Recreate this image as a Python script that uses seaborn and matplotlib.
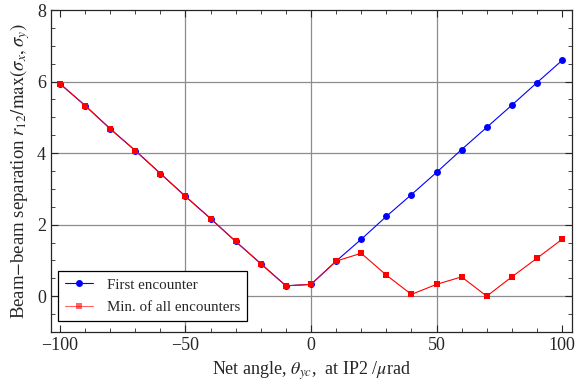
import matplotlib
matplotlib.use("Agg")
import matplotlib.pyplot as plt
import seaborn as sns
import pandas as pd
from matplotlib.ticker import MultipleLocator

angles = [-100, -90, -80, -70, -60, -50, -40, -30, -20, -10, 0, 10, 20, 30, 40, 50, 60, 70, 80, 90, 100]
first_encounter = [5.94, 5.33, 4.68, 4.07, 3.43, 2.79, 2.17, 1.53, 0.91, 0.29, 0.33, 0.98, 1.59, 2.23, 2.84, 3.46, 4.10, 4.72, 5.34, 5.97, 6.59]
min_all = [5.94, 5.33, 4.68, 4.07, 3.43, 2.79, 2.17, 1.53, 0.91, 0.29, 0.33, 0.98, 1.20, 0.59, 0.05, 0.33, 0.54, 0.00, 0.54, 1.06, 1.59]

sns.set_style("ticks")
plt.rcParams['font.family'] = ['Liberation Serif', 'DejaVu Serif']
plt.rcParams['mathtext.fontset'] = 'stix'

df1 = pd.DataFrame({"x": angles, "y": first_encounter})
df2 = pd.DataFrame({"x": angles, "y": min_all})

fig = plt.figure(figsize=(5.79, 3.86), dpi=100)
ax = fig.add_axes([0.088, 0.14, 0.9, 0.834])

for v in [-50, 0, 50]:
    ax.axvline(v, color='#8c8c8c', lw=0.9, zorder=0)
for v in [0, 2, 4, 6]:
    ax.axhline(v, color='#8c8c8c', lw=0.9, zorder=0)

sns.lineplot(data=df1, x="x", y="y", ax=ax, color='blue', marker='o', markersize=5,
             markeredgewidth=0, lw=0.8, label='First encounter')
sns.lineplot(data=df2, x="x", y="y", ax=ax, color='red', marker='s', markersize=4.5,
             markeredgewidth=0, lw=0.8, label='Min. of all encounters')

ax.set_xlim(-103.6, 104)
ax.set_ylim(-1, 8)
ax.xaxis.set_major_locator(MultipleLocator(50))
ax.xaxis.set_minor_locator(MultipleLocator(10))
ax.yaxis.set_major_locator(MultipleLocator(2))
ax.yaxis.set_minor_locator(MultipleLocator(0.5))
ax.tick_params(which='both', direction='in', top=True, right=True, labelsize=13)
ax.tick_params(which='major', length=5, width=0.8)
ax.tick_params(which='minor', length=3, width=0.6)
ax.set_xticks([-100, -50, 0, 50, 100])
ax.set_xticklabels(['\u2212100', '\u221250', '0', '50', '100'])
ax.set_yticks([0, 2, 4, 6, 8])
for s in ax.spines.values():
    s.set_linewidth(0.9)

ax.set_xlabel(r'Net angle, $\theta_{yc}$,  at IP2 /$\mu$rad', fontsize=13)
ax.set_ylabel(r'Beam$-$beam separation $r_{12}/\mathrm{max}(\sigma_x,\sigma_y)$', fontsize=13.5)

leg = ax.legend(loc='lower left', bbox_to_anchor=(0.008, 0.025), fontsize=10.8, frameon=True,
                fancybox=False, edgecolor='black', framealpha=1, borderpad=0.45,
                borderaxespad=0.2, handlelength=1.9, handletextpad=0.9, labelspacing=0.6)
leg.get_frame().set_linewidth(0.9)
leg.legend_handles[1].set_alpha(0.6)

fig.savefig("out.png", dpi=100)
